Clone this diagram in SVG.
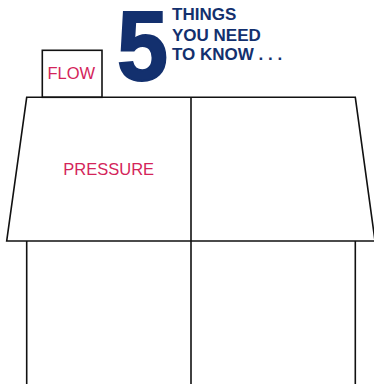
<svg xmlns="http://www.w3.org/2000/svg" width="374" height="384" viewBox="0 0 374 384">
<style>
.ln{fill:none;stroke:#111;stroke-width:1.6;stroke-linejoin:miter}
.lbl{font-family:"Liberation Sans",Arial,sans-serif;font-size:16.5px;fill:#d4245a}
.hd{font-family:"Liberation Sans",Arial,sans-serif;font-weight:bold;fill:#13306e}
</style>
<rect width="374" height="384" fill="#fff"/>
<g id="title">
<text class="hd" x="117" y="80" font-size="98" textLength="51" lengthAdjust="spacingAndGlyphs" stroke="#13306e" stroke-width="2">5</text>
<text class="hd" x="172" y="20" font-size="17">THINGS</text>
<text class="hd" x="172" y="41" font-size="17">YOU NEED</text>
<text class="hd" x="172" y="60" font-size="17">TO KNOW . . .</text>
</g>
<g id="flow">
<rect class="ln" x="42.3" y="50.3" width="59.7" height="47"/>
<text class="lbl" x="47.5" y="79.3">FLOW</text>
</g>
<g id="roof">
<polygon class="ln" points="26.7,97.3 355.3,97.3 375,241 6.7,241"/>
<text class="lbl" x="63.3" y="175">PRESSURE</text>
</g>
<g id="base">
<polyline class="ln" points="26.7,241 26.7,386"/>
<polyline class="ln" points="355.3,241 355.3,386"/>
</g>
<g id="connectors">
<line class="ln" x1="191" y1="97.3" x2="191" y2="386"/>
</g>
</svg>
